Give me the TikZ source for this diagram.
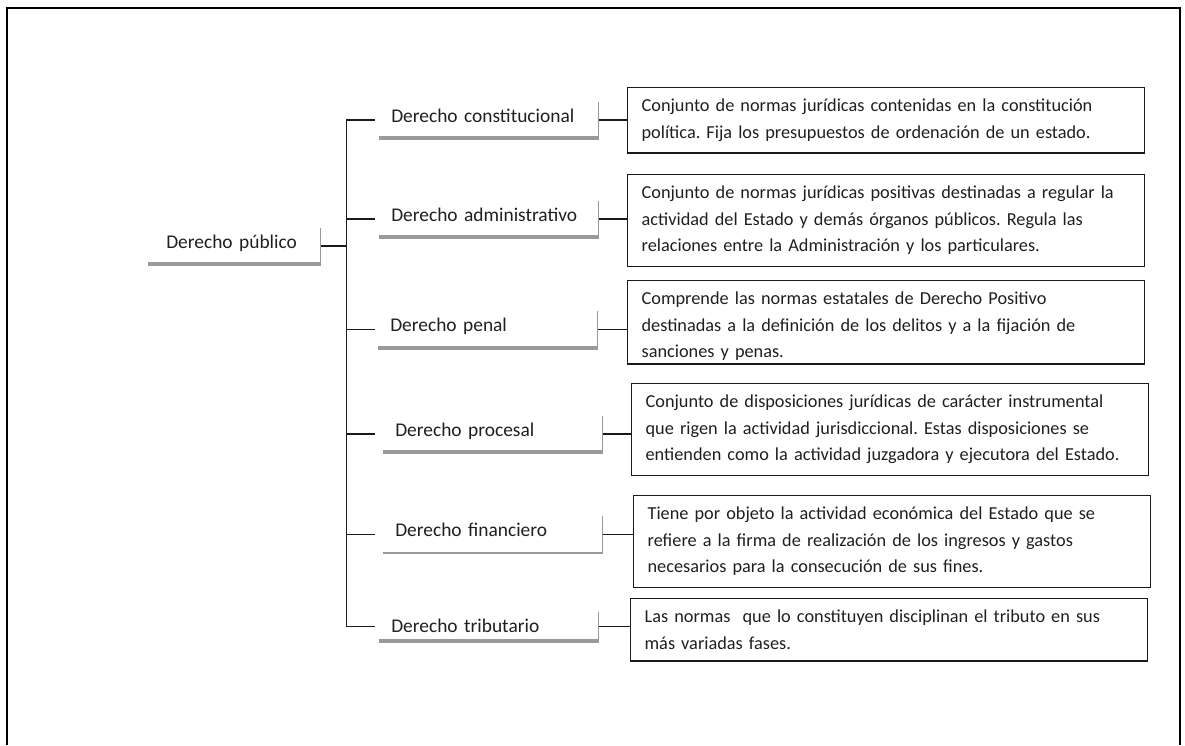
\documentclass[tikz,border=0pt]{standalone}
\usepackage{fontspec}
\setmainfont{Carlito}
\usepackage{tikz}
\definecolor{Linea}{HTML}{1A1A1A}
\definecolor{Texto}{HTML}{1F1F1F}
\definecolor{Sombra}{HTML}{9A9A9A}
\frenchspacing
\hyphenpenalty=10000
\exhyphenpenalty=10000
\newcommand\fuentecaja{\fontsize{13}{18.8}\selectfont\spaceskip=0.2em plus 0.1em\relax}

\begin{document}
\begin{tikzpicture}[x=0.025cm,y=-0.025cm,
    rama/.style={anchor=base west,inner xsep=0.3cm,inner ysep=0pt,text width=4.875cm,
      align=left,text height=0.5cm,text depth=0.4cm,text=Texto,
      font=\fontsize{13.8}{18.8}\selectfont},
    texto/.style={anchor=north west,draw=Linea,line width=0.9pt,inner xsep=0.35cm,
      inner ysep=0.29cm,text width=12.225cm,align=left,text=Texto,font=\fuentecaja},
    conector/.style={draw=Linea,line width=0.9pt},
    borde/.style={draw=Sombra,line width=1.2pt}]
  \useasboundingbox (0,0) rectangle (1185,745);
  \draw[line width=1.4pt] (7,745) -- (7,8) -- (1180,8) -- (1180,745);
  \coordinate (tronco) at (346.5,0);
  \node[rama,text width=3.4cm,inner xsep=0.45cm] (pub) at (148,248) {Derecho público};
  \node[rama] (cons) at (379,122) {Derecho constitucional};
  \node[rama] (adm) at (379,221) {Derecho administrativo};
  \node[rama] (pen) at (378,331.7) {Derecho penal};
  \node[rama] (proc) at (383,436) {Derecho procesal};
  \node[rama] (fin) at (383,536.7) {Derecho financiero};
  \node[rama,text depth=0.19cm] (trib) at (379,632.7) {Derecho tributario};
  \foreach \n/\w in {pub/2.8pt,cons/2.8pt,adm/2.8pt,pen/2.8pt,proc/2.8pt,fin/1.4pt,trib/2.8pt}{
    \draw[borde] (\n.north east) -- (\n.south east);
    \draw[borde,line width=\w] (\n.south west) -- (\n.south east);
  }
  \node[texto] (b1) at (627,87)
    {Conjunto de normas jurídicas contenidas en la constitución\\
     política. Fija los presupuestos de ordenación de un estado.};
  \node[texto] (b2) at (627,174)
    {Conjunto de normas jurídicas positivas destinadas a regular la\\
     actividad del Estado y demás órganos públicos. Regula las\\
     relaciones entre la Administración y los particulares.};
  \node[texto] (b3) at (627,280)
    {Comprende las normas estatales de Derecho Positivo\\
     destinadas a la definición de los delitos y a la fijación de\\
     sanciones y penas.\par\kern-6pt};
  \node[texto] (b4) at (631,383)
    {Conjunto de disposiciones jurídicas de carácter instrumental\\
     que rigen la actividad jurisdiccional. Estas disposiciones se\\
     entienden como la actividad juzgadora y ejecutora del Estado.};
  \node[texto] (b5) at (633,495)
    {Tiene por objeto la actividad económica del Estado que se\\
     refiere a la firma de realización de los ingresos y gastos\\
     necesarios para la consecución de sus fines.};
  \node[texto] (b6) at (630,598)
    {Las normas\ \ que lo constituyen disciplinan el tributo en sus\\
     más variadas fases.};
  \draw[conector] (pub.east) -- (pub.east -| tronco);
  \draw[conector] (tronco |- cons.west) ++(28,0) -- (tronco |- cons.west)
    -- (tronco |- trib.west) -- ++(28,0);
  \foreach \n in {adm,pen,proc,fin}
    \draw[conector] (tronco |- \n.west) -- ++(28,0);
  \foreach \n/\b in {cons/b1,adm/b2,pen/b3,proc/b4,fin/b5,trib/b6}
    \draw[conector] (\n.east) -- (\n.east -| \b.west);
\end{tikzpicture}
\end{document}
